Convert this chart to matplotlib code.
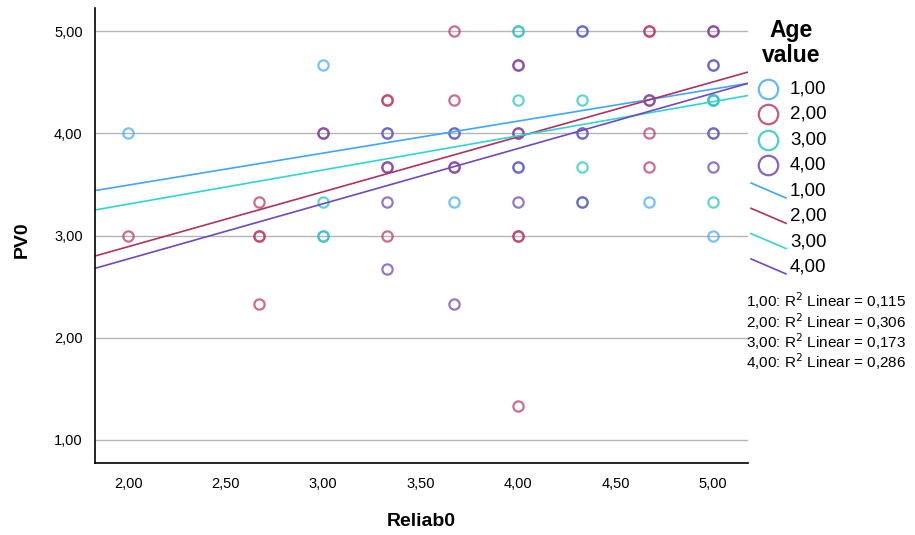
import matplotlib
matplotlib.use("Agg")
import matplotlib.pyplot as plt
from matplotlib.lines import Line2D
import numpy as np

plt.rcParams['font.family'] = ['Liberation Sans', 'DejaVu Sans']

groups = ["1,00", "2,00", "3,00", "4,00"]

# scatter points (Reliab0, PV0) per Age value
g1_x = [4.0, 3.0, 2.0, 3.67, 3.33, 4.33, 5.0, 3.67, 4.67, 3.0, 4.33, 5.0, 5.0, 5.0, 4.0]
g1_y = [5.0, 4.67, 4.0, 4.0, 4.0, 5.0, 3.0, 3.33, 3.33, 3.0, 4.0, 4.33, 4.67, 4.0, 3.67]
g2_x = [3.67, 4.67, 4.67, 5.0, 3.33, 3.33, 3.67, 4.67, 3.0, 4.0, 4.67, 3.33, 3.67, 4.67,
        2.67, 2.0, 2.67, 2.67, 3.33, 4.0, 4.0, 2.67, 4.0, 4.0]
g2_y = [5.0, 5.0, 5.0, 5.0, 4.33, 4.33, 4.33, 4.33, 4.0, 4.0, 4.0, 3.67, 3.67, 3.67,
        3.33, 3.0, 3.0, 3.0, 3.0, 3.0, 3.0, 2.33, 1.33, 4.67]
g3_x = [4.0, 4.0, 4.33, 5.0, 4.33, 3.0, 4.33, 5.0, 3.0, 5.0]
g3_y = [5.0, 4.33, 4.33, 4.33, 3.67, 3.33, 3.33, 3.33, 3.0, 4.33]
g4_x = [4.33, 5.0, 4.0, 5.0, 4.67, 3.0, 3.33, 3.67, 4.0, 4.33, 5.0, 3.33, 3.67,
        4.0, 5.0, 3.33, 4.0, 4.33, 3.33, 3.67]
g4_y = [5.0, 5.0, 4.67, 4.67, 4.33, 4.0, 4.0, 4.0, 4.0, 4.0, 4.0, 3.67, 3.67,
        3.67, 3.67, 3.33, 3.33, 3.33, 2.67, 2.33]

# linear fit lines (intercept, slope) and R2 per group
fit_intercept = [2.867, 1.817, 2.639, 1.691]
fit_slope = [0.313, 0.537, 0.334, 0.540]
r2 = ["0,115", "0,306", "0,173", "0,286"]

xs = [g1_x, g2_x, g3_x, g4_x]
ys = [g1_y, g2_y, g3_y, g4_y]

marker_colors = ["#4aaef5", "#bc3d6c", "#2ec8c4", "#7448b4"]
line_colors = ["#3fa6ff", "#b0325e", "#2fd6d0", "#7048c0"]

fig = plt.figure(figsize=(9.15, 5.35), dpi=100)
ax = fig.add_axes([0.104, 0.1346, 0.7135, 0.8504])

xmin, xmax = 1.83, 5.18
ax.set_xlim(xmin, xmax)
ax.set_ylim(0.775, 5.225)

ax.yaxis.grid(True, color="#b4b4b4", linewidth=1)
ax.set_axisbelow(True)

for i in range(4):
    ax.plot(xs[i], ys[i], "o", linestyle="none", markersize=7.4, markerfacecolor="none",
            markeredgecolor=marker_colors[i], markeredgewidth=1.6, alpha=0.75)

line_x = np.array([xmin, xmax])
for i in range(4):
    ax.plot(line_x, fit_intercept[i] + fit_slope[i] * line_x, color=line_colors[i], linewidth=1.2)

ax.set_xticks([2.0, 2.5, 3.0, 3.5, 4.0, 4.5, 5.0])
ax.set_yticks([1.0, 2.0, 3.0, 4.0, 5.0])
ax.set_xticklabels(["2,00", "2,50", "3,00", "3,50", "4,00", "4,50", "5,00"])
ax.set_yticklabels(["1,00", "2,00", "3,00", "4,00", "5,00"])
ax.tick_params(length=0, labelsize=10.5, pad=9)
ax.tick_params(axis="x", pad=10)

for s in ["top", "right"]:
    ax.spines[s].set_visible(False)
for s in ["left", "bottom"]:
    ax.spines[s].set_color("black")
    ax.spines[s].set_linewidth(1.2)

fig.text(421 / 915, 1 - 522 / 535, "Reliab0", ha="center", va="center",
         fontsize=14, fontweight="bold")
fig.text(22 / 915, 1 - 240 / 535, "PV0", ha="center", va="center",
         fontsize=14, fontweight="bold", rotation=90)

# legend
W, H = 915.0, 535.0
fig.text(791 / W, 1 - 43 / H, "Age\nvalue", ha="center", va="center",
         fontsize=16.5, fontweight="bold", linespacing=1.1)
for i in range(4):
    yy = 89 + i * 25.3
    fig.add_artist(Line2D([768 / W], [1 - yy / H], marker="o", markersize=14,
                          markerfacecolor="none", markeredgecolor=marker_colors[i],
                          markeredgewidth=1.6, alpha=0.85))
    fig.text(790 / W, 1 - yy / H, groups[i], ha="left", va="center", fontsize=13.5)
for i in range(4):
    yy = 191 + i * 25.3
    fig.add_artist(Line2D([751 / W, 786 / W], [1 - (yy - 8) / H, 1 - (yy + 7) / H],
                          color=line_colors[i], linewidth=1.2))
    fig.text(790 / W, 1 - yy / H, groups[i], ha="left", va="center", fontsize=13.5)
for i in range(4):
    yy = 301 + i * 20.2
    fig.text(746 / W, 1 - yy / H, groups[i] + ": R$^2$ Linear = " + r2[i],
             ha="left", va="center", fontsize=11)

fig.savefig("out.png", dpi=100)
